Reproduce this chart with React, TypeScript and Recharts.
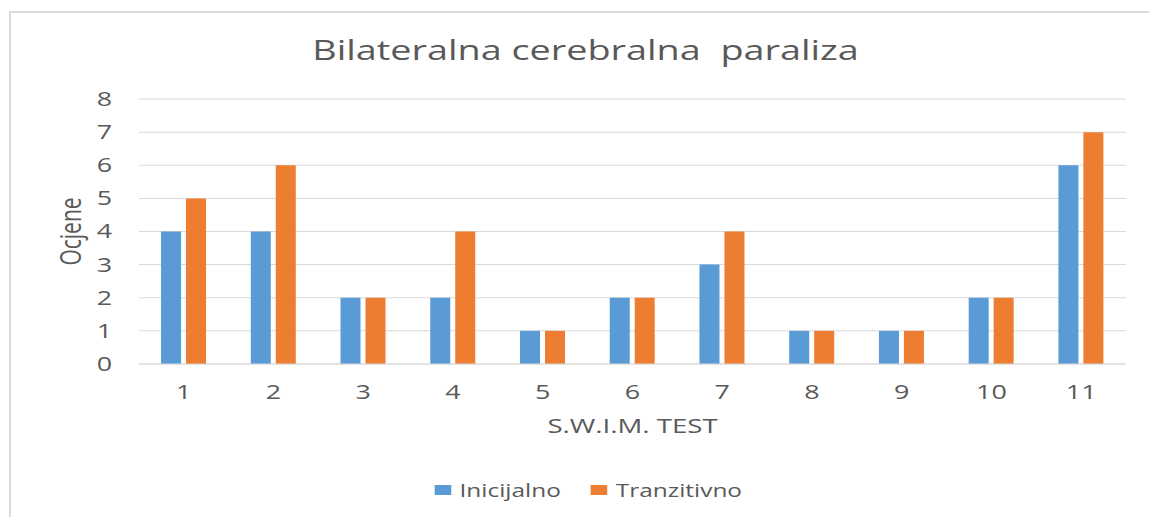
import { BarChart, Bar, XAxis, YAxis, CartesianGrid, Legend, Label } from "recharts";

const categories = ["1", "2", "3", "4", "5", "6", "7", "8", "9", "10", "11"];
const inicijalno = [4, 4, 2, 2, 1, 2, 3, 1, 1, 2, 6];
const tranzitivno = [5, 6, 2, 4, 1, 2, 4, 1, 1, 2, 7];
const yTicks = [0, 1, 2, 3, 4, 5, 6, 7, 8];

const series = [
  { key: "inicijalno", name: "Inicijalno", color: "#5B9BD5" },
  { key: "tranzitivno", name: "Tranzitivno", color: "#ED7D31" },
];

const data = categories.map((test, i) => ({
  test,
  inicijalno: inicijalno[i],
  tranzitivno: tranzitivno[i],
}));

// the source picture is stretched sideways, so the chart is drawn narrower and scaled
const STRETCH = 1.38;
const W = 1149 / STRETCH;
const H = 517;
const FONT = '"Open Sans", "Noto Sans", sans-serif';
const TEXT = "#595959";
const GRID = "#d9d9d9";

const renderLegend = () => (
  <div style={{ height: 28, display: "flex", alignItems: "center", paddingLeft: 315.2, fontFamily: FONT }}>
    {series.map((s) => (
      <div key={s.key} style={{ display: "flex", alignItems: "center", marginRight: 22 }}>
        <span style={{ display: "inline-block", width: 12, height: 10, background: s.color, marginRight: 5.8 }} />
        <span style={{ fontSize: 17.7, color: TEXT }}>{s.name}</span>
      </div>
    ))}
  </div>
);

const App = () => {
  return (
    <div style={{ position: "absolute", left: 0, top: 0, width: 1149, height: H, overflow: "hidden", background: "#fff" }}>
      <div
        style={{
          position: "absolute",
          left: 9,
          top: 11,
          width: 1300,
          height: 700,
          borderTop: `2px solid ${GRID}`,
          borderLeft: `2px solid ${GRID}`,
        }}
      />
      <div
        style={{
          position: "absolute",
          left: 0,
          top: 0,
          width: W,
          height: H,
          transform: `scaleX(${STRETCH})`,
          transformOrigin: "0 0",
          fontFamily: FONT,
        }}
      >
        <div
          style={{
            position: "absolute",
            left: 0,
            top: 35.5,
            width: 848.6,
            textAlign: "center",
            fontSize: 27.4,
            lineHeight: 1,
            color: TEXT,
            whiteSpace: "pre",
          }}
        >
          Bilateralna cerebralna  paraliza
        </div>
        <BarChart
          width={W}
          height={H}
          data={data}
          margin={{ top: 99, right: 16.6, left: 60.7, bottom: 13 }}
          barSize={14.5}
          barGap={3.6}
        >
          <CartesianGrid vertical={false} stroke={GRID} />
          <XAxis
            dataKey="test"
            height={112}
            interval={0}
            tickLine={false}
            tickSize={0}
            tickMargin={21.5}
            axisLine={{ stroke: GRID }}
            tick={{ fill: TEXT, fontSize: 19.5, fontFamily: FONT }}
          >
            <Label value="S.W.I.M. TEST" position="insideTop" offset={54.8} fill={TEXT} fontSize={20} fontFamily={FONT} />
          </XAxis>
          <YAxis
            domain={[0, 8]}
            ticks={yTicks}
            width={40}
            interval={0}
            axisLine={false}
            tickLine={false}
            tickSize={0}
            tickMargin={19.5}
            tick={{ fill: TEXT, fontSize: 19.5, fontFamily: FONT }}
          >
            <Label
              content={({ viewBox }: any) => {
                const cx = viewBox.x - 10;
                const cy = viewBox.y + viewBox.height / 2;
                return (
                  <text
                    x={cx}
                    y={cy}
                    transform={`rotate(-90, ${cx}, ${cy})`}
                    textAnchor="middle"
                    dominantBaseline="central"
                    fill={TEXT}
                    fontSize={21}
                    fontFamily={FONT}
                  >
                    Ocjene
                  </text>
                );
              }}
            />
          </YAxis>
          <Legend verticalAlign="bottom" content={renderLegend} wrapperStyle={{ left: 0, width: W }} />
          {series.map((s) => (
            <Bar key={s.key} dataKey={s.key} name={s.name} fill={s.color} isAnimationActive={false} />
          ))}
        </BarChart>
      </div>
    </div>
  );
};

export default App;
